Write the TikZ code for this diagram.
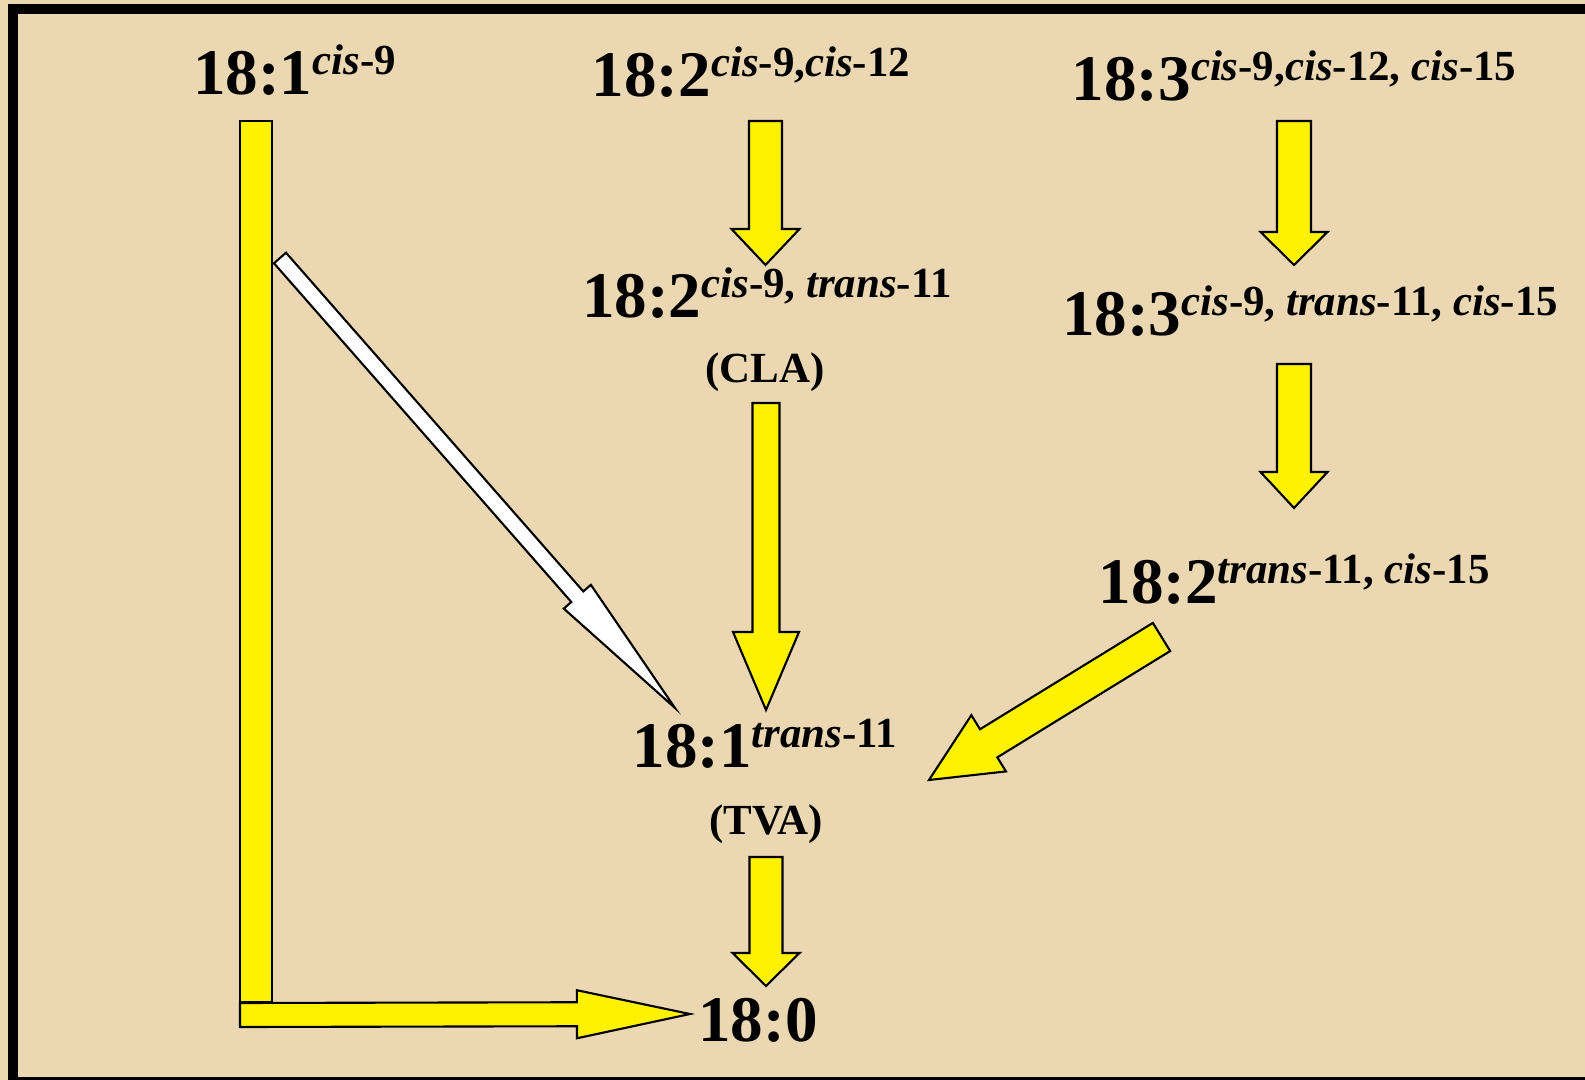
\documentclass[tikz,border=0pt]{standalone}
\usepackage{fontspec}
\setmainfont{Liberation Serif}
\usetikzlibrary{calc}
\usepackage{xcolor}
\definecolor{parch}{HTML}{EBD8B2}
\definecolor{dark}{HTML}{000000}
\tikzset{
  lbl/.style={anchor=base, inner sep=0pt, font=\bfseries},
  yarrow/.style={draw=dark, fill=yellow, line width=0.6pt, line join=miter},
  warrow/.style={yarrow, fill=white},
  frame/.style={draw=dark, line width=2.85pt}
}
\newcommand{\bigsz}{\fontsize{18.5}{22}\selectfont}
\newcommand{\smallsz}{\fontsize{12.2}{14}\selectfont}
\newcommand{\fa}[2]{{\bigsz #1}\raisebox{5.7pt}{\smallsz #2}}
% block arrow: style, from, to, half shaft, half head, head length
\newcommand{\blockarrow}[6]{%
  \coordinate (ba-s) at (#2);
  \coordinate (ba-t) at (#3);
  \coordinate (ba-c) at ($(ba-t)!#6!(ba-s)$);
  \draw[#1] ($(ba-s)!#4!90:(ba-t)$) -- ($(ba-c)!#4!90:(ba-t)$) -- ($(ba-c)!#5!90:(ba-t)$)
    -- (ba-t) -- ($(ba-c)!#5!-90:(ba-t)$) -- ($(ba-c)!#4!-90:(ba-t)$) -- ($(ba-s)!#4!-90:(ba-t)$) -- cycle;
}

\begin{document}
\begin{tikzpicture}[x=0.01cm, y=-0.01cm]
  \useasboundingbox (0,0) rectangle (1585,1080);
  \fill[parch] (0,0) rectangle (1585,1080);
  \draw[frame] (13,9.5) rectangle (1600,1082);

  % fatty acids
  \node[lbl] (oleic) at (294.5,95) {\fa{18:1}{\textit{cis}-9}};
  \node[lbl] (linoleic) at (751,97) {\fa{18:2}{\textit{cis}-9,\textit{cis}-12}};
  \node[lbl] (linolenic) at (1294,101) {\fa{18:3}{\textit{cis}-9,\textit{cis}-12, \textit{cis}-15}};
  \node[lbl] (cla) at (767,318) {\fa{18:2}{\textit{cis}-9, \textit{trans}-11}};
  \node[lbl, font=\bfseries\smallsz] (clalab) at (765,383) {(CLA)};
  \node[lbl] (ctc) at (1310,336) {\fa{18:3}{\textit{cis}-9, \textit{trans}-11, \textit{cis}-15}};
  \node[lbl] (tc) at (1294,604) {\fa{18:2}{\textit{trans}-11, \textit{cis}-15}};
  \node[lbl] (tva) at (765,768) {\fa{18:1}{\textit{trans}-11}};
  \node[lbl, font=\bfseries\smallsz] (tvalab) at (766,834) {(TVA)};
  \node[lbl] (stearic) at (758,1041) {{\bigsz 18:0}};

  % hydrogenation steps
  \blockarrow{yarrow}{$(linoleic.base)+(14.5,24)$}{$(cla.base)+(-1.5,-53)$}{0.165cm}{0.34cm}{0.36cm}
  \blockarrow{yarrow}{$(linolenic.base)+(0,20)$}{$(ctc.base)+(-16,-71)$}{0.17cm}{0.335cm}{0.33cm}
  \blockarrow{yarrow}{$(ctc.base)+(-16,28)$}{$(tc.base)+(0,-96)$}{0.17cm}{0.335cm}{0.36cm}
  \blockarrow{yarrow}{$(clalab.base)+(1,20)$}{$(tva.base)+(1,-58)$}{0.135cm}{0.33cm}{0.78cm}
  \blockarrow{yarrow}{$(tvalab.base)+(0,23)$}{$(stearic.base)+(8,-55)$}{0.165cm}{0.335cm}{0.33cm}
  \blockarrow{yarrow}{$(tc.base)+(-132.5,33)$}{$(tva.base)+(164,12)$}{0.165cm}{0.33cm}{0.70cm}

  % oleic acid route
  \coordinate (corner) at ($(oleic.base)+(-38.5,920)$);
  \draw[yarrow] ($(oleic.base)+(-54.5,26)$) rectangle ($(corner)+(16,-13)$);
  \blockarrow{yarrow}{$(corner)+(-16,0)$}{$(stearic.base)+(-68,-27)$}{0.12cm}{0.24cm}{1.13cm}
  \blockarrow{warrow}{$(oleic.base)+(-14.5,163)$}{$(tva.base)+(-90,-60)$}{0.08cm}{0.18cm}{1.48cm}
\end{tikzpicture}
\end{document}
